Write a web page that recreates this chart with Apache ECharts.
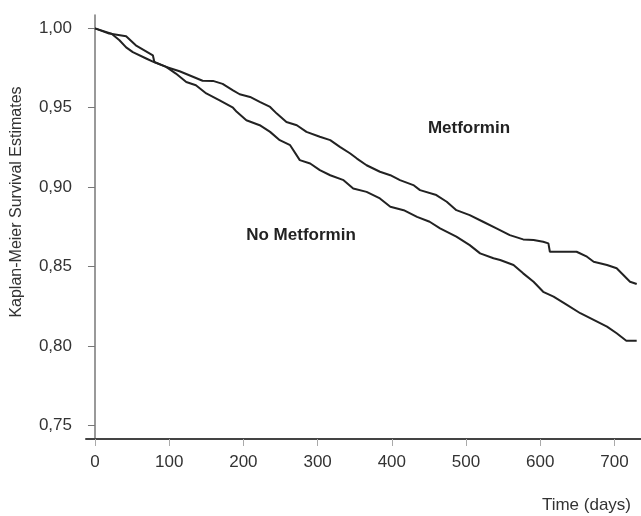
<!DOCTYPE html>
<html>
<head>
<meta charset="utf-8">
<script src="https://cdn.jsdelivr.net/npm/echarts@6/dist/echarts.min.js"></script>
<style>
  html, body { margin: 0; padding: 0; background: #fff; }
  #chart { width: 641px; height: 516px; }
</style>
</head>
<body>
<div id="chart"></div>
<script>
// tick values
var xTicks = [0, 100, 200, 300, 400, 500, 600, 700];
var yTicks = [0.75, 0.80, 0.85, 0.90, 0.95, 1.00];

// Metformin curve (days, survival estimate)
var metDays = [0, 22, 33, 42, 51, 69, 78, 96, 114, 145, 159, 172, 186, 195, 209, 222, 236, 245, 258, 272,
    285, 303, 317, 330, 344, 353, 366, 384, 398, 411, 429, 438, 460, 474, 487, 505, 523, 541, 559, 577,
    591, 604, 611, 613, 649, 663, 672, 690, 703, 712, 721, 730];
var metValues = [1.0, 0.9967, 0.9925, 0.988, 0.985, 0.981, 0.979, 0.9757, 0.973, 0.967, 0.9669, 0.965, 0.961,
    0.9585, 0.9568, 0.9537, 0.9505, 0.9463, 0.941, 0.939, 0.9348, 0.9317, 0.9296, 0.9254, 0.9212, 0.918,
    0.9138, 0.9097, 0.9075, 0.9044, 0.9013, 0.8981, 0.895, 0.8908, 0.8855, 0.8824, 0.8782, 0.874, 0.8698,
    0.8671, 0.8667, 0.8656, 0.8646, 0.8593, 0.8593, 0.8562, 0.853, 0.851, 0.8489, 0.8447, 0.8404, 0.839];

// No Metformin curve
var noMetDays = [0, 19, 42, 55, 78, 80, 96, 109, 123, 136, 150, 168, 186, 191, 204, 222, 236, 249, 263, 276,
    290, 303, 317, 335, 348, 366, 384, 398, 416, 434, 451, 465, 487, 505, 519, 537, 546, 564, 577, 591,
    604, 618, 636, 654, 672, 690, 703, 716, 730];
var noMetValues = [1.0, 0.9967, 0.995, 0.9893, 0.983, 0.9788, 0.9757, 0.9715, 0.9662, 0.9642, 0.959, 0.9547,
    0.950, 0.9474, 0.9421, 0.939, 0.9348, 0.9296, 0.9264, 0.917, 0.9149, 0.9107, 0.9075, 0.9044, 0.8992,
    0.897, 0.8929, 0.8876, 0.8855, 0.8813, 0.8782, 0.874, 0.8688, 0.8635, 0.8583, 0.8552, 0.8541, 0.851,
    0.8457, 0.8404, 0.8341, 0.831, 0.8258, 0.8206, 0.8164, 0.8122, 0.808, 0.8033, 0.8033];

function pairs(xs, ys) {
    var out = [];
    for (var i = 0; i < xs.length; i++) {
        out.push([xs[i], ys[i]]);
    }
    return out;
}

var font = "'Liberation Sans', Arial, sans-serif";
var chart = echarts.init(document.getElementById('chart'));

var option = {
    animation: false,
    backgroundColor: '#fff',
    grid: { left: 86, right: 0, top: 15, bottom: 77, containLabel: false },
    xAxis: {
        type: 'value',
        min: -12.1,
        max: 735.8,
        splitLine: { show: false },
        axisLine: { lineStyle: { color: '#444', width: 2 } },
        axisTick: { customValues: xTicks, length: 7, lineStyle: { color: '#aaa', width: 1 } },
        axisLabel: {
            customValues: xTicks,
            margin: 15,
            color: '#333',
            fontSize: 17,
            fontFamily: font
        }
    },
    yAxis: {
        type: 'value',
        min: 0.7414,
        max: 1.0084,
        splitLine: { show: false },
        axisLine: { show: true, lineStyle: { color: '#777', width: 1.5 } },
        axisTick: { customValues: yTicks, length: 7, lineStyle: { color: '#777', width: 1 } },
        axisLabel: {
            customValues: yTicks,
            margin: 14,
            color: '#333',
            fontSize: 17,
            fontFamily: font,
            formatter: function (v) { return v.toFixed(2).replace('.', ','); }
        }
    },
    graphic: [
        {
            type: 'text', x: 17, y: 202, rotation: Math.PI / 2,
            style: {
                text: 'Kaplan-Meier Survival Estimates', fill: '#333',
                font: '16px ' + font, align: 'center', verticalAlign: 'middle'
            }
        },
        {
            type: 'text', x: 631, y: 505,
            style: {
                text: 'Time (days)', fill: '#333',
                font: '17px ' + font, align: 'right', verticalAlign: 'middle'
            }
        },
        {
            type: 'text', x: 469, y: 128,
            style: {
                text: 'Metformin', fill: '#222',
                font: 'bold 17px ' + font, align: 'center', verticalAlign: 'middle'
            }
        },
        {
            type: 'text', x: 301, y: 235,
            style: {
                text: 'No Metformin', fill: '#222',
                font: 'bold 17px ' + font, align: 'center', verticalAlign: 'middle'
            }
        }
    ],
    series: [
        {
            name: 'Metformin',
            type: 'line',
            data: pairs(metDays, metValues),
            showSymbol: false,
            lineStyle: { color: '#222', width: 2 }
        },
        {
            name: 'No Metformin',
            type: 'line',
            data: pairs(noMetDays, noMetValues),
            showSymbol: false,
            lineStyle: { color: '#222', width: 2 }
        }
    ]
};
chart.setOption(option);
</script>
</body>
</html>
